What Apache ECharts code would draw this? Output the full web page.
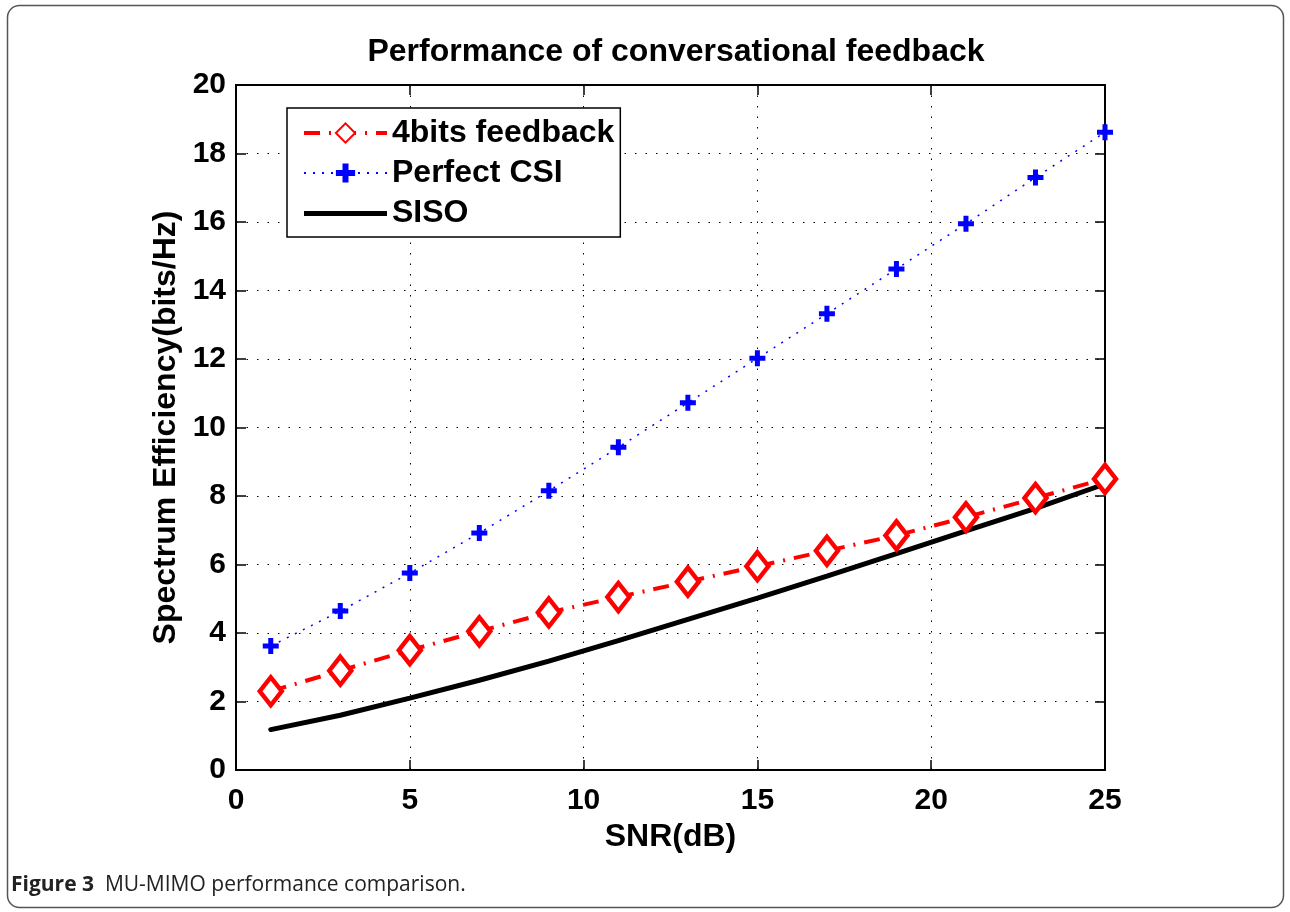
<!DOCTYPE html>
<html>
<head>
<meta charset="utf-8">
<script src="https://cdn.jsdelivr.net/npm/echarts@6/dist/echarts.min.js"></script>
<style>
  html, body { margin: 0; padding: 0; background: #fff; }
  #main { width: 1290px; height: 912px; }
</style>
</head>
<body>
<div id="main"></div>
<script>
// SNR points (dB)
var snr = [1, 3, 5, 7, 9, 11, 13, 15, 17, 19, 21, 23, 25]
// spectrum efficiency, bits/Hz
var feedback4bits = [2.3, 2.9, 3.5, 4.05, 4.6, 5.05, 5.5, 5.95, 6.4, 6.85, 7.38, 7.94, 8.5]
var perfectCsi = [3.62, 4.64, 5.75, 6.92, 8.15, 9.42, 10.72, 12.02, 13.32, 14.63, 15.95, 17.3, 18.62]
var siso = [1.18, 1.6, 2.1, 2.62, 3.18, 3.78, 4.4, 5.02, 5.66, 6.32, 6.98, 7.64, 8.35]

var font = 'Liberation Sans, Arial, sans-serif'
var plus = 'path://M5.5,0H10.5V5.5H16V10.5H10.5V16H5.5V10.5H0V5.5H5.5Z'

function pairs (ys) {
  return snr.map(function (x, i) { return [x, ys[i]] })
}

// top / right axes: only the inward ticks of the matlab box
function tickAxis (pos, max, step) {
  return {
    type: 'value', min: 0, max: max, interval: step, position: pos,
    axisLine: { show: true, onZero: false, lineStyle: { color: '#000', width: 2 } },
    axisTick: { show: true, inside: true, length: 10, lineStyle: { color: '#000', width: 1.5 } },
    axisLabel: { show: false },
    splitLine: { show: false }
  }
}

var chart = echarts.init(document.getElementById('main'))
var option = {
  animation: false,
  backgroundColor: '#fff',
  title: {
    text: 'Performance of conversational feedback',
    left: 671,
    textAlign: 'center',
    top: 31,
    textStyle: { fontFamily: font, fontWeight: 'bold', fontSize: 32, color: '#000' }
  },
  legend: {
    orient: 'vertical',
    left: 287,
    top: 108,
    padding: [9, 6, 8, 15],
    itemWidth: 83,
    itemHeight: 24,
    itemGap: 8,
    borderColor: '#000',
    borderWidth: 1.5,
    backgroundColor: '#fff',
    textStyle: { fontFamily: font, fontWeight: 'bold', fontSize: 32, color: '#000' },
    data: [
      { name: '4bits feedback', lineStyle: { width: 4 } },
      { name: 'Perfect CSI' },
      { name: 'SISO', icon: 'path://M0,0L0,0M0,10H83V15H0ZM83,24L83,24', itemStyle: { color: '#000' } }
    ]
  },
  grid: {
    left: 236, right: 185, top: 85, bottom: 142,
    show: true, borderColor: '#000', borderWidth: 2
  },
  xAxis: [{
    type: 'value', min: 0, max: 25, interval: 5,
    name: 'SNR(dB)', nameLocation: 'middle', nameGap: 46,
    nameTextStyle: { fontFamily: font, fontWeight: 'bold', fontSize: 32, color: '#000' },
    axisLine: { onZero: false, lineStyle: { color: '#000', width: 2 } },
    axisTick: { show: true, inside: true, length: 10, lineStyle: { color: '#000', width: 1.5 } },
    axisLabel: { margin: 16, fontFamily: font, fontWeight: 'bold', fontSize: 30, color: '#000' },
    splitLine: { show: true, lineStyle: { color: '#000', width: 1, type: [1.5, 9] } }
  }, tickAxis('top', 25, 5)],
  yAxis: [{
    type: 'value', min: 0, max: 20, interval: 2,
    name: 'Spectrum Efficiency(bits/Hz)', nameLocation: 'middle', nameGap: 53,
    nameTextStyle: { fontFamily: font, fontWeight: 'bold', fontSize: 32, color: '#000' },
    axisLine: { show: true, onZero: false, lineStyle: { color: '#000', width: 2 } },
    axisTick: { show: true, inside: true, length: 10, lineStyle: { color: '#000', width: 1.5 } },
    axisLabel: { margin: 10, fontFamily: font, fontWeight: 'bold', fontSize: 30, color: '#000' },
    splitLine: { show: true, lineStyle: { color: '#000', width: 1, type: [1.5, 9] } }
  }, tickAxis('right', 20, 2)],
  series: [
    {
      name: 'Perfect CSI',
      type: 'line',
      data: pairs(perfectCsi),
      symbol: plus,
      symbolSize: 16,
      showAllSymbol: true,
      lineStyle: { color: '#0000ff', width: 1.5, type: [2, 7] },
      itemStyle: { color: '#0000ff' },
      z: 3
    },
    {
      name: 'SISO',
      type: 'line',
      data: pairs(siso),
      symbol: 'none',
      lineStyle: { color: '#000', width: 5, cap: 'round' },
      itemStyle: { color: '#000' },
      z: 2
    },
    {
      name: '4bits feedback',
      type: 'line',
      data: pairs(feedback4bits),
      symbol: 'diamond',
      symbolSize: [22, 28],
      showAllSymbol: true,
      lineStyle: { color: '#ff0000', width: 4, type: [16, 9, 2, 9] },
      itemStyle: { color: '#fff', borderColor: '#ff0000', borderWidth: 4.5 },
      z: 4
    }
  ],
  graphic: [
    {
      type: 'rect',
      shape: { x: 7.5, y: 5.5, width: 1276, height: 902, r: 12 },
      style: { fill: 'none', stroke: '#555', lineWidth: 1.5 },
      silent: true
    },
    {
      type: 'text',
      left: 11,
      top: 875,
      style: {
        rich: {
          b: { fontFamily: 'Open Sans', fontWeight: 'bold', fontSize: 21, fill: '#222' },
          r: { fontFamily: 'Open Sans', fontSize: 21, fill: '#222' }
        },
        text: '{b|Figure 3}{r|  MU-MIMO performance comparison.}'
      }
    }
  ]
}
chart.setOption(option)
</script>
</body>
</html>
